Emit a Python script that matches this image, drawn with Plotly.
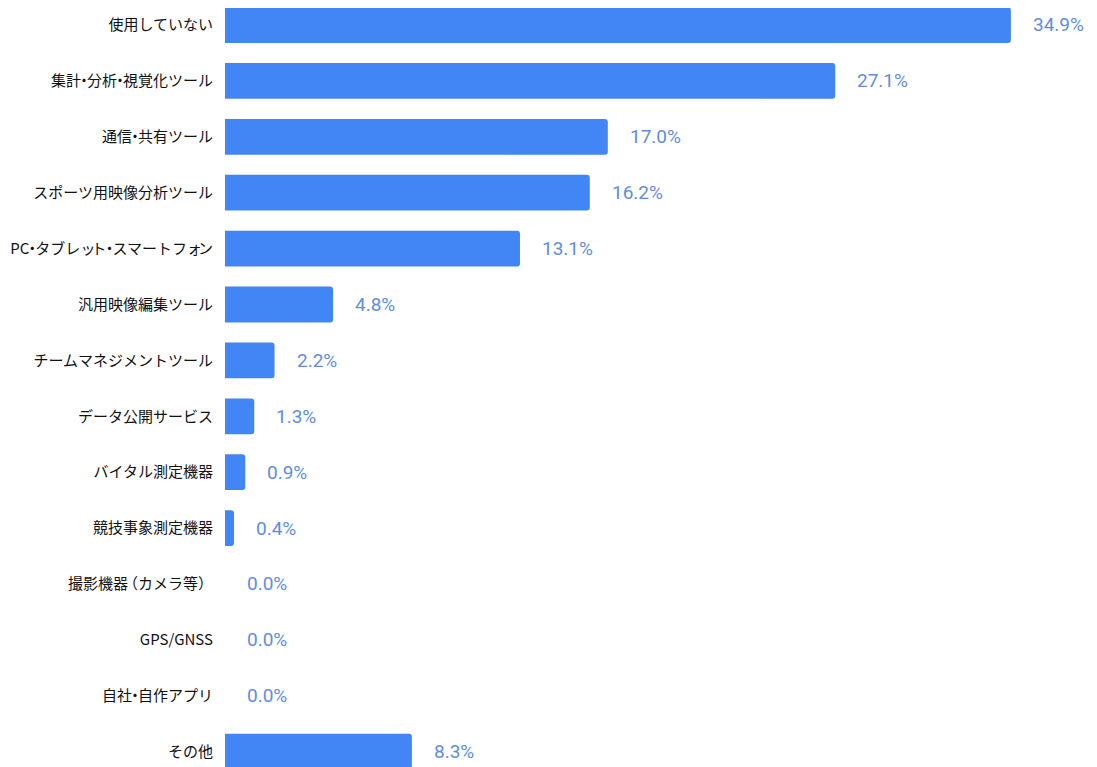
import plotly.graph_objects as go

categories = [
    "使用していない",
    "集計・分析・視覚化ツール",
    "通信・共有ツール",
    "スポーツ用映像分析ツール",
    "PC・タブレット・スマートフォン",
    "汎用映像編集ツール",
    "チームマネジメントツール",
    "データ公開サービス",
    "バイタル測定機器",
    "競技事象測定機器",
    "撮影機器（カメラ等）",
    "GPS/GNSS",
    "自社・自作アプリ",
    "その他",
]
values = [34.9, 27.1, 17.0, 16.2, 13.1, 4.8, 2.2, 1.3, 0.9, 0.4, 0.0, 0.0, 0.0, 8.3]
value_labels = [f"{v:.1f}%" for v in values]

BAR_COLOR = "#4285F4"
TEXT_COLOR = "#5f8de0"

SMALL_KANA = "ッォャュョィェァ"


def tighten(label):
    # proportional look: narrower middle dots, brackets and small kana
    out = ""
    i = 0
    while i < len(label):
        ch = label[i]
        nxt = label[i + 1] if i + 1 < len(label) else ""
        if nxt == "・":
            out += '<span style="letter-spacing:-4.5px">' + ch + "・</span>"
            i += 2
            continue
        if nxt == "（":
            out += '<span style="letter-spacing:-5px">' + ch + "</span>（"
            i += 2
            continue
        if ch in SMALL_KANA:
            out += '<span style="letter-spacing:-4px">' + ch + "</span>"
            i += 1
            continue
        out += ch
        i += 1
    return out


tick_text = [tighten(c) for c in categories]

fig = go.Figure()
fig.add_trace(go.Bar(
    x=values,
    y=categories,
    orientation="h",
    marker=dict(color=BAR_COLOR, cornerradius=3, line=dict(width=0)),
    width=0.64,
    hoverinfo="skip",
))

for c, v, t in zip(categories, values, value_labels):
    fig.add_annotation(
        x=v, y=c, text=t, showarrow=False,
        xanchor="left", yanchor="middle", xshift=20,
        font=dict(family="Roboto", size=19, color=TEXT_COLOR),
    )

fig.update_layout(
    width=1097, height=767,
    margin=dict(l=217, r=0, t=0, b=0, autoexpand=False),
    paper_bgcolor="white", plot_bgcolor="white",
    showlegend=False,
    xaxis=dict(range=[0, 39.08], visible=False, fixedrange=True, automargin=False),
    yaxis=dict(
        type="category",
        range=[13.417, -0.304],
        automargin=False,
        tickmode="array", tickvals=categories, ticktext=tick_text,
        showgrid=False, zeroline=False, showline=False,
        ticks="outside", ticklen=8, tickcolor="rgba(0,0,0,0)",
        tickfont=dict(family="Noto Sans CJK JP", size=15, color="#111111"),
        fixedrange=True,
    ),
)

fig.write_html("out.html")
